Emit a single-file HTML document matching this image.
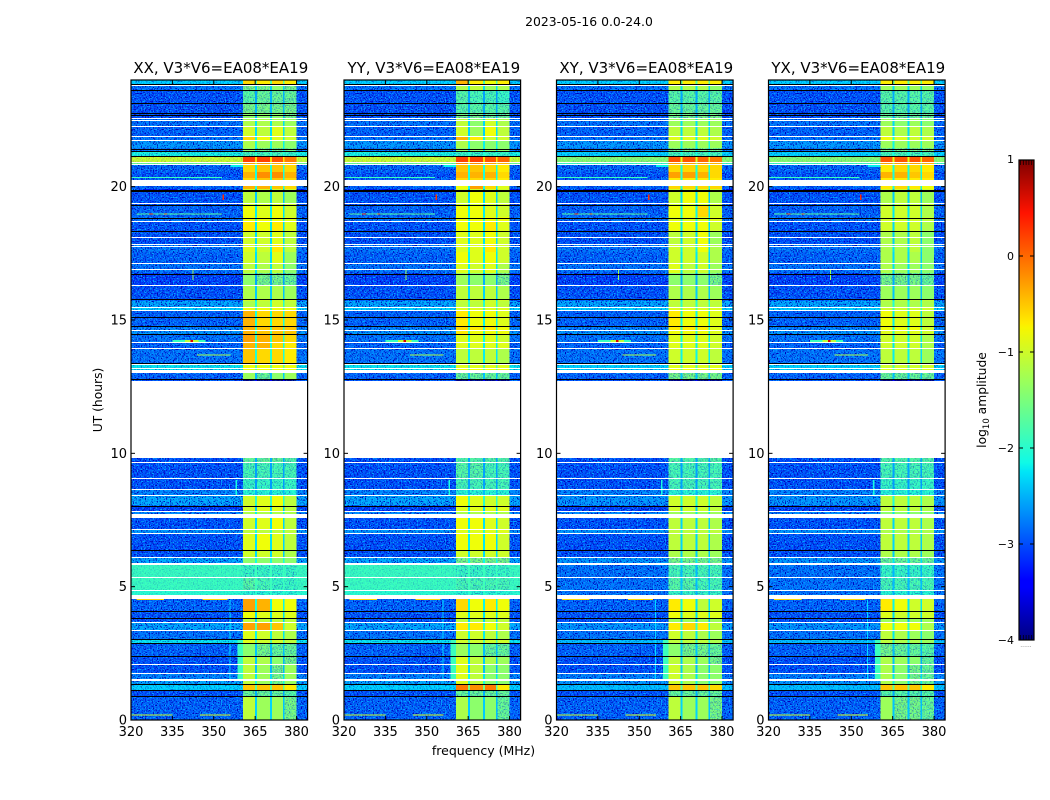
<!DOCTYPE html>
<html lang="en">
<head>
<meta charset="utf-8">
<title>2023-05-16 waterfall</title>
<style>
html,body{margin:0;padding:0;background:#fff;width:1050px;height:800px;overflow:hidden}
svg{display:block;font-family:"DejaVu Sans","Liberation Sans",sans-serif;fill:#000}
</style>
</head>
<body>
<svg id="fig" xmlns="http://www.w3.org/2000/svg" width="1050" height="800" viewBox="0 0 1050 800">
  <defs>
    <filter id="grain-dark" x="0" y="0" width="100%" height="100%" color-interpolation-filters="sRGB">
      <feTurbulence type="fractalNoise" baseFrequency="0.75" numOctaves="1" seed="3"/>
      <feColorMatrix type="matrix" values="0 0 0 0 0  0 0 0 0 0  0 0 0 0 0.72  7 0 0 0 -3.55"/>
    </filter>
    <filter id="grain-light" x="0" y="0" width="100%" height="100%" color-interpolation-filters="sRGB">
      <feTurbulence type="fractalNoise" baseFrequency="0.75" numOctaves="1" seed="11"/>
      <feColorMatrix type="matrix" values="0 0 0 0 0  0 0 0 0 0.66  0 0 0 0 1  7 0 0 0 -3.7"/>
    </filter>
    <pattern id="grain" patternUnits="userSpaceOnUse" width="220" height="220">
      <rect width="220" height="220" filter="url(#grain-dark)"/>
      <rect width="220" height="220" filter="url(#grain-light)"/>
    </pattern>
    <linearGradient id="jet-gradient" x1="0" y1="1" x2="0" y2="0"></linearGradient>
  </defs>
  <text x="589" y="26" font-size="12.4" text-anchor="middle">2023-05-16 0.0-24.0</text>
  <text x="483.5" y="755" font-size="12.5" text-anchor="middle">frequency (MHz)</text>
  <text transform="translate(102,400) rotate(-90)" font-size="12.3" text-anchor="middle">UT (hours)</text>
  <text transform="translate(986,400) rotate(-90)" font-size="12.3" text-anchor="middle">log<tspan font-size="8.5" dy="3">10</tspan><tspan dy="-3"> amplitude</tspan></text>
  <g id="panels"></g>
  <g id="colorbar"></g>
</svg>
<script>
// ---- chart data -------------------------------------------------------
const panelTitles = ["XX, V3*V6=EA08*EA19","YY, V3*V6=EA08*EA19","XY, V3*V6=EA08*EA19","YX, V3*V6=EA08*EA19"];
const freqTicks = [320,335,350,365,380];
const utTicks = [0,5,10,15,20];
const colorTicks = [1,0,-1,-2,-3,-4];
const colorMinorTicks = [0.98,0.95,0.92,0.89,0.85,-3.85,-3.89,-3.92,-3.95,-3.98];
// band edges in MHz: background, then four sub-bands separated by gaps
const bandEdges = [[360.5,365],[365.7,370.4],[371.1,375],[375.7,380]];
// UT at the top of each time row (bottom of the last row is 0)
const rowTops = [24,23.83,23.63,23.14,22.76,22.58,22.24,21.86,21.71,21.45,21.34,21.15,20.93,20.81,20.55,20.33,20.03,19.91,19.8,19.35,19.28,18.86,18.68,18.34,17.85,17.55,17.1,16.76,16.28,15.79,15.71,15.49,15.34,14.78,14.59,14.44,14.14,13.91,13.39,13.2,13.01,12.75,9.86,9.64,9.04,8.63,8.4,8.04,7.84,7.58,7.13,6.98,6.34,6.08,5.85,5.33,4.84,4.54,4.09,3.83,3.64,3.34,3.04,2.85,2.36,2.06,1.73,1.46,1.35,1.13,0.86];
// log10 amplitude outside the band per row
const backgroundParallel = [-2.3,-2.8,-3,-3,-3,-2.8,-2.9,-2.8,-2.6,-2.8,-2.1,-1,-1.6,-2.9,-3,-2.9,-2.9,-3.3,-3,-3,-2.9,-2.8,-3,-3,-2.8,-2.9,-2.8,-3.1,-3,-2.9,-2.5,-2.3,-2.9,-2.7,-2.6,-2.8,-2.9,-2.8,-2.2,-2.2,-2.9,-3,-3,-3,-3,-2.7,-2.5,-3.1,-2.7,-3,-2.6,-3,-3,-2.5,-1.9,-1.9,-2,-2.9,-3,-3,-2.5,-2.8,-2.2,-2.9,-3,-3,-2.7,-2.5,-2.3,-3,-2.9];
const backgroundCross = [-2.3,-2.8,-3,-3,-3,-2.8,-2.9,-2.8,-2.6,-2.8,-2.3,-1.4,-1.9,-2.9,-3,-2.9,-2.9,-3.3,-3,-3,-2.9,-2.8,-3,-3,-2.8,-2.9,-2.8,-3.1,-3,-2.9,-2.5,-2.3,-2.9,-2.7,-2.6,-2.8,-2.9,-2.8,-2.3,-2.3,-2.9,-3,-3,-3,-3,-2.7,-2.6,-3.1,-2.7,-3,-2.6,-3,-3,-2.6,-2.8,-2.8,-2.8,-2.9,-3,-3,-2.6,-2.8,-2.4,-2.9,-3,-3,-2.7,-2.6,-2.4,-3,-2.9];
// log10 amplitude of the four sub-bands per row, one matrix per polarisation
const bandsXX = [[-.6,-.7,-.6,-.7],[-1.5,-1.5,-1.4,-1.5],[-1.7,-1.6,-1.6,-1.6],[-1.5,-1.5,-1.5,-1.5],[-1.4,-1.4,-1.4,-1.5],[-1.2,-1.2,-1.2,-1.3],[-1,-1.1,-.9,-1.1],[-.6,-.8,-.9,-1],[-1.2,-1.3,-1.3,-1.4],[-1.4,-1.5,-1.5,-1.5],[-1.8,-1.8,-1.8,-1.9],[.2,.2,.1,-.1],[-.3,-.3,-.4,-.4],[-.6,-.5,-.5,-.6],[-.4,-.2,-.2,-.4],[-.6,-.5,-.5,-.6],[-.4,-.4,-.5,-.6],[-1,-1,-1,-1],[-1.1,-1.2,-1.1,-1.3],[-1,-1,-1,-1],[-.8,-.9,-.8,-1],[-.8,-.8,-.8,-.9],[-.7,-.8,-.7,-.9],[-1,-1,-.9,-1.1],[-.9,-1,-.7,-1.1],[-1,-1.1,-.9,-1.3],[-1.1,-1.2,-1.1,-1.4],[-1.4,-1.5,-1.5,-1.6],[-1.2,-1.2,-1.2,-1.3],[-1,-1,-1,-1],[-1.2,-1.1,-1,-1.1],[-.8,-.8,-.8,-.8],[-.4,-.6,-.6,-.6],[-.4,-.5,-.5,-.5],[-.4,-.5,-.5,-.5],[-.3,-.4,-.5,-.6],[-.4,-.4,-.6,-.7],[-.5,-.6,-.6,-.7],[-.8,-.8,-.8,-.8],[-.8,-.8,-.8,-.8],[-1.3,-1.6,-1.4,-1.3],[-4,-4,-4,-4],[-1.6,-1.6,-1.6,-1.7],[-1.8,-1.8,-1.8,-1.8],[-1.9,-1.9,-1.9,-1.9],[-2,-2,-2,-2],[-1,-.9,-.8,-1.1],[-1,-.9,-.9,-1.1],[-1.2,-1.2,-1.2,-1.2],[-1,-.9,-.8,-1.1],[-1.1,-1.1,-1.1,-1.1],[-.9,-.8,-.9,-1.1],[-1,-1,-1,-1.2],[-1.4,-1.4,-1.4,-1.4],[-1.9,-1.9,-1.9,-1.9],[-1.7,-1.8,-1.9,-1.9],[-2,-2,-2,-2],[-.3,-.4,-.8,-.8],[-.8,-.9,-.9,-.9],[-1.1,-1.1,-1.1,-1.1],[-.3,-.3,-.5,-1],[-.9,-1,-1.1,-1.2],[-.9,-1,-1,-1.1],[-1.4,-1.5,-1.6,-1.6],[-1.1,-1.2,-1.4,-1.5],[-1.1,-1.3,-1.5,-1.3],[-1.1,-1.3,-1.5,-1.3],[-1.1,-1.3,-1.5,-1.3],[-.5,-.5,-.5,-.7],[-1.6,-1.6,-1.6,-1.7],[-1.1,-1.3,-1.3,-1.5]];
const bandsYY = [[-.4,-.7,-.8,-.7],[-1.2,-1.1,-1.3,-1.2],[-1.7,-1.8,-1.8,-1.9],[-1.7,-1.7,-1.7,-1.7],[-1.5,-1.5,-1.6,-1.6],[-1.1,-1.4,-1,-1.2],[-1,-1.3,-.8,-1.1],[-.4,-.7,-1,-1],[-1.2,-1.4,-1.4,-1.4],[-1.4,-1.4,-1.4,-1.4],[-1.9,-1.9,-1.9,-1.9],[.2,.2,.1,0],[-.2,-.2,-.3,-.4],[-.5,-.5,-.6,-.7],[-.4,-.4,-.4,-.6],[-.6,-.6,-.6,-.7],[-.8,-.3,-.6,-.9],[-1,-1,-1,-1],[-1,-.8,-.9,-1.1],[-1,-1,-1,-1],[-.8,-.8,-.9,-1],[-.8,-.8,-.8,-.8],[-.8,-.8,-.7,-.9],[-.9,-.9,-.8,-1],[-.9,-.9,-.7,-1],[-.8,-.9,-.8,-1],[-.9,-1,-.9,-1.2],[-1.3,-1.4,-1.4,-1.5],[-1.1,-1.1,-1.1,-1.2],[-1,-1,-1,-1],[-1.1,-1.1,-1,-1.1],[-.9,-.9,-.9,-.9],[-.7,-.8,-.8,-.9],[-.6,-.7,-.7,-.8],[-.7,-.8,-.8,-.8],[-.9,-.9,-.9,-1],[-.9,-.9,-.9,-.9],[-1.1,-1.1,-1.1,-1.2],[-.9,-.9,-.9,-.9],[-.8,-.8,-.8,-.8],[-1.6,-1.6,-1.6,-1.6],[-4,-4,-4,-4],[-1.7,-1.7,-1.7,-1.7],[-1.7,-1.7,-1.8,-1.8],[-1.8,-1.8,-1.8,-1.8],[-2,-2,-2,-2],[-.8,-.9,-1,-1],[-.9,-.9,-.9,-.9],[-1.2,-1.2,-1.2,-1.2],[-.8,-.8,-.9,-1],[-.9,-.9,-.9,-.9],[-.8,-.8,-.8,-1],[-1,-1,-1,-1],[-1.5,-1.5,-1.5,-1.5],[-1.9,-1.9,-1.9,-1.9],[-1.8,-1.8,-1.8,-1.8],[-2,-2,-2,-2],[-.6,-.8,-.7,-.8],[-.9,-.9,-.9,-.9],[-1.1,-1.1,-1.1,-1.1],[-.7,-.7,-.8,-1],[-1,-1,-1.1,-1.2],[-1,-1,-1,-1],[-1.3,-1.4,-1.6,-1.6],[-.9,-1.1,-1.2,-1.3],[-.9,-1.1,-1.4,-1.4],[-.9,-1.1,-1.4,-1.4],[-.9,-1.1,-1.4,-1.4],[-.1,-.2,-.1,-.7],[-1.6,-1.6,-1.6,-1.6],[-1.2,-1.4,-1.4,-1.6]];
const bandsXY = [[-.7,-.7,-.7,-.7],[-1.2,-1.2,-1.2,-1.4],[-1.7,-1.7,-1.7,-1.7],[-1.6,-1.6,-1.6,-1.6],[-1.5,-1.5,-1.5,-1.5],[-1.3,-1.3,-1.3,-1.3],[-1.1,-1.1,-1.1,-1.2],[-.9,-.9,-.9,-1],[-1.3,-1.3,-1.3,-1.3],[-1.5,-1.5,-1.5,-1.5],[-1.8,-1.8,-1.8,-1.8],[.1,.1,0,-.1],[-.3,-.3,-.3,-.4],[-.6,-.6,-.6,-.6],[-.3,-.3,-.4,-.6],[-.7,-.7,-.7,-.7],[-.6,-.6,-.6,-.6],[-1,-1,-1,-1],[-1,-.8,-.8,-1.2],[-1,-1,-1,-1],[-.8,-.8,-.6,-1],[-.9,-.9,-.9,-.9],[-.8,-.8,-.8,-1],[-1.1,-1,-.8,-1.3],[-1,-1,-.8,-1.2],[-1,-1,-1,-1.2],[-.9,-1.1,-1,-1.3],[-1.4,-1.4,-1.4,-1.5],[-1.2,-1.2,-1.2,-1.3],[-1,-1,-1,-1],[-1.1,-1.1,-1.1,-1.1],[-.9,-.9,-.9,-.9],[-.7,-.8,-.8,-.9],[-.7,-.7,-.7,-.9],[-.8,-.8,-.8,-.9],[-.9,-.9,-.9,-1],[-.9,-.9,-.9,-1],[-1,-1,-1,-1.1],[-.9,-.9,-.9,-.9],[-.8,-.8,-.8,-.8],[-1.5,-1.5,-1.5,-1.5],[-4,-4,-4,-4],[-1.7,-1.7,-1.7,-1.7],[-1.8,-1.8,-1.8,-1.8],[-1.8,-1.8,-1.8,-1.8],[-2,-2,-2,-2],[-1,-1,-1,-1.1],[-1,-1,-1,-1.1],[-1.3,-1.3,-1.3,-1.3],[-1.1,-1.1,-1.1,-1.2],[-1.1,-1.1,-1.1,-1.1],[-1.1,-1.1,-1.1,-1.2],[-1.2,-1.2,-1.2,-1.3],[-1.5,-1.5,-1.5,-1.5],[-1.8,-1.8,-1.8,-1.8],[-1.7,-1.7,-1.8,-1.8],[-1.9,-1.9,-1.9,-1.9],[-.7,-.8,-1.1,-1],[-.8,-.9,-.9,-.9],[-1.3,-1.3,-1.3,-1.3],[-.7,-.6,-.7,-1.1],[-1,-1.1,-1.2,-1.3],[-1.1,-1.1,-1.1,-1.2],[-1.4,-1.5,-1.5,-1.6],[-1.1,-1.2,-1.3,-1.5],[-1,-1.2,-1.4,-1.4],[-1,-1.2,-1.4,-1.4],[-1,-1.2,-1.4,-1.4],[-.5,-.5,-.5,-.6],[-1.6,-1.6,-1.6,-1.6],[-1.1,-1.3,-1.3,-1.5]];
const bandsYX = [[-.7,-.7,-.7,-.7],[-1.3,-1.3,-1.3,-1.4],[-1.7,-1.7,-1.7,-1.7],[-1.7,-1.7,-1.7,-1.7],[-1.6,-1.6,-1.6,-1.6],[-1.3,-1.4,-1.3,-1.4],[-1.1,-1.2,-1.1,-1.2],[-.8,-.9,-1,-1],[-1.3,-1.3,-1.3,-1.3],[-1.5,-1.5,-1.5,-1.5],[-1.8,-1.8,-1.8,-1.8],[.1,.1,.1,0],[-.3,-.3,-.3,-.4],[-.7,-.6,-.6,-.7],[-.4,-.4,-.5,-.6],[-.7,-.7,-.7,-.7],[-.7,-.6,-.7,-.8],[-1,-1,-1,-1],[-1.2,-1.1,-1.1,-1.3],[-1.1,-1.1,-1.1,-1.1],[-1,-1,-1,-1.2],[-1,-1,-1,-1.1],[-1,-1,-1,-1.2],[-1.2,-1.2,-1.1,-1.4],[-1.2,-1.2,-1.1,-1.4],[-1.2,-1.2,-1.2,-1.4],[-1.2,-1.3,-1.3,-1.4],[-1.5,-1.5,-1.5,-1.6],[-1.3,-1.3,-1.3,-1.4],[-1.1,-1.1,-1.1,-1.1],[-1.2,-1.2,-1.2,-1.2],[-1,-1,-1,-1],[-.8,-.9,-.9,-1.1],[-.8,-.8,-.8,-1],[-.9,-.9,-.9,-1],[-1,-1,-1,-1.2],[-1,-1,-1,-1.2],[-1.1,-1.1,-1.1,-1.3],[-1,-1,-1,-1],[-.9,-.9,-.9,-.9],[-1.6,-1.6,-1.6,-1.6],[-4,-4,-4,-4],[-1.7,-1.7,-1.7,-1.7],[-1.8,-1.8,-1.8,-1.8],[-1.9,-1.9,-1.9,-1.9],[-2,-2,-2,-2],[-1.1,-1.1,-1.1,-1.2],[-1.1,-1.1,-1.1,-1.2],[-1.4,-1.4,-1.4,-1.4],[-1.1,-1.1,-1.1,-1.2],[-1.2,-1.2,-1.2,-1.2],[-1.1,-1.1,-1.1,-1.2],[-1.2,-1.2,-1.2,-1.3],[-1.6,-1.6,-1.6,-1.6],[-1.9,-1.9,-1.9,-1.9],[-1.8,-1.8,-1.8,-1.8],[-2,-2,-2,-2],[-.7,-.8,-1,-1],[-.9,-1,-1,-1],[-1.3,-1.3,-1.3,-1.3],[-.8,-.8,-.8,-1.2],[-1.1,-1.2,-1.3,-1.4],[-1.1,-1.2,-1.2,-1.3],[-1.5,-1.6,-1.6,-1.7],[-1.2,-1.3,-1.4,-1.6],[-1.2,-1.4,-1.5,-1.6],[-1.2,-1.4,-1.5,-1.6],[-1.2,-1.4,-1.5,-1.6],[-.5,-.5,-.5,-.7],[-1.7,-1.7,-1.7,-1.7],[-1.3,-1.5,-1.5,-1.6]];
const bandMatrices = [bandsXX,bandsYY,bandsXY,bandsYX];
const backgrounds = [backgroundParallel,backgroundParallel,backgroundCross,backgroundCross];
// narrow interference features: [utTop, utBottom, freqStart, freqEnd, level]
const featureSpans = [
 [20.36,20.32,320,353,-1.9],[19.7,19.5,353.2,353.7,.3],[20.81,20.74,356,360.5,-2.2],
 [18.99,18.95,322,353,-1.7],[18.99,18.95,326.5,328,.1],[18.99,18.95,332,333,-.3],
 [14.25,14.15,335,347,-1.9],[14.25,14.15,339.5,344.5,-1.1],[14.25,14.15,341.5,342.5,.6],
 [13.71,13.67,344,356,-1.2],[16.9,16.5,342.2,342.7,-1.3],
 [4.54,4.5,322,332,-.6],[4.54,4.5,346,355,-.6],
 [.21,.17,320,335,-1],[.21,.17,345,356,-.9],
 [3,1.5,358.6,360.5,-1.9],[4.5,1.5,355.7,356,-2.3],[9,8.4,357.8,358.4,-2.1]
];
// fully flagged (white) spans: [utTop, utBottom]
const blankSpans = [[23.83,23.79],[22.56,22.52],[22.5,22.46],[22.28,22.24],[21.89,21.85],[21.74,21.7],[20.93,20.89],[20.86,20.82],[20.25,20.03],[19.38,19.34],[18.73,18.69],[18.11,18.07],[17.85,17.81],[17.79,17.75],[17.13,17.09],[16.91,16.87],[16.3,16.26],[15.49,15.45],[15.38,15.34],[14.63,14.59],[14.18,14.14],[13.95,13.91],[13.34,13.3],[13.2,13.16],[13.14,13.02],[12.73,9.84],[9.68,9.64],[9.07,9.03],[8.66,8.62],[8.45,8.41],[7.84,7.8],[7.73,7.56],[7.16,7.12],[7.03,6.99],[6.12,6.08],[5.89,5.82],[5.35,5.31],[4.88,4.84],[4.69,4.52],[3.68,3.64],[3.37,3.33],[2.88,2.84],[2.11,2.07],[1.77,1.73],[1.53,1.46]];
// dark flagged lines, UT of each line
const darkLines = [23.85,23.61,23.13,22.76,22.69,21.43,21.34,21.15,19.89,19.82,19.31,18.84,18.34,16.74,15.77,15.11,14.78,14.46,13.39,12.77,8.04,6.36,4.08,3.81,3.05,2.89,2.39,1.36,1.14,.89];
const colorStops = [-4,-3.45,-3.375,-2.25,-2.15,-1.3,-0.75,-0.7,-0.45,0.45,1];

// ---- axes -------------------------------------------------------------
const SVG_NS = "http://www.w3.org/2000/svg";
const panelLefts = [131,344,556.5,768.5];
const panelWidth = 176.6;
const plotTop = 80, plotBottom = 720;
const freqMin = 320, freqMax = 384, utMax = 24;
const xScale = (f,left) => left + (f-freqMin)/(freqMax-freqMin)*panelWidth;
const yScale = ut => plotBottom - ut/utMax*(plotBottom-plotTop);
const cbTop = 160, cbBottom = 640, cbLeft = 1019, cbRight = 1034;
const cbScale = v => cbBottom - (v+4)/5*(cbBottom-cbTop);

function ramp(t,pts){
  for(let i=1;i<pts.length;i++){
    if(t<=pts[i][0]){const a=pts[i-1],b=pts[i];return a[1]+(b[1]-a[1])*(t-a[0])/(b[0]-a[0]);}
  }
  return pts[pts.length-1][1];
}
function jet(v){
  const t=Math.max(0,Math.min(1,(v+4)/5));
  const r=ramp(t,[[0,0],[.35,0],[.66,1],[.89,1],[1,.5]]);
  const g=ramp(t,[[0,0],[.125,0],[.375,1],[.64,1],[.91,0],[1,0]]);
  const b=ramp(t,[[0,.5],[.11,1],[.34,1],[.65,0],[1,0]]);
  return `rgb(${Math.round(r*255)},${Math.round(g*255)},${Math.round(b*255)})`;
}
function make(parent,tag,attrs,text){
  const el=document.createElementNS(SVG_NS,tag);
  for(const k in attrs) el.setAttribute(k,attrs[k]);
  if(text!==undefined) el.textContent=text;
  parent.appendChild(el);
  return el;
}
function cell(parent,left,f0,f1,ut0,ut1,level,opacityGrain){
  const x0=xScale(f0,left),x1=xScale(f1,left),y0=yScale(ut0),y1=yScale(ut1);
  const r=make(parent,"rect",{x:x0,y:y0,width:x1-x0,height:y1-y0,fill:jet(level),"shape-rendering":"crispEdges"});
  
  
  if(opacityGrain>0){
    const g=make(parent,"rect",{x:x0,y:y0,width:x1-x0,height:y1-y0,fill:"url(#grain)",opacity:opacityGrain,"shape-rendering":"crispEdges"});
    
    
  }
}

// ---- panels -----------------------------------------------------------
const panelsG=document.getElementById("panels");
panelTitles.forEach((title,p)=>{
  const left=panelLefts[p];
  const g=make(panelsG,"g",{});
  
  
  rowTops.forEach((top,i)=>{
    const bottom=i+1<rowTops.length?rowTops[i+1]:0;
    const bg=backgrounds[p][i], bands=bandMatrices[p][i];
    const bgGrain=bg<-2.4?1:bg<-2?.5:.2;
    cell(g,left,freqMin,bandEdges[0][0],top,bottom,bg,bgGrain);
    cell(g,left,bandEdges[3][1],freqMax,top,bottom,bg,bgGrain);
    bands.forEach((level,k)=>{
      cell(g,left,bandEdges[k][0],bandEdges[k][1],top,bottom,level,level<-1.4?.4:0);
      if(k<3){
        const gapLevel=bg+0.35*(Math.min(level,bands[k+1])-bg);
        cell(g,left,bandEdges[k][1],bandEdges[k+1][0],top,bottom,gapLevel,0);
      }
    });
  });
  featureSpans.forEach(s=>cell(g,left,s[2],s[3],s[0],s[1],s[4],0));
  blankSpans.forEach(s=>{
    const yA=Math.round(yScale(s[0])), yB=Math.round(yScale(s[1]));
    const thin=(s[0]-s[1])<=0.05;
    const b=make(g,"rect",{x:left,y:yA,width:panelWidth,height:thin?1:Math.max(1,yB-yA),fill:"#fff","shape-rendering":"crispEdges"});
    
    
  });
  darkLines.forEach(u=>{
    const l=make(g,"rect",{x:left,y:Math.round(yScale(u)),width:panelWidth,height:1,fill:"#000","shape-rendering":"crispEdges"});
    
    
  });
  const frame=make(g,"rect",{x:left,y:plotTop,width:panelWidth,height:plotBottom-plotTop,fill:"none",stroke:"#000","stroke-width":1.2});
  
  
  freqTicks.forEach(f=>{
    const x=xScale(f,left);
    const tb=make(g,"line",{x1:x,x2:x,y1:plotBottom,y2:plotBottom-4,stroke:"#000","stroke-width":1});
    
    
    const tt=make(g,"line",{x1:x,x2:x,y1:plotTop,y2:plotTop+4,stroke:"#000","stroke-width":1});
    
    
    const lb=make(g,"text",{x:x,y:736,"font-size":13,"text-anchor":"middle"},String(f));
    
    
  });
  utTicks.forEach(u=>{
    const y=yScale(u);
    const tl=make(g,"line",{x1:left,x2:left+4,y1:y,y2:y,stroke:"#000","stroke-width":1});
    
    
    const tr=make(g,"line",{x1:left+panelWidth,x2:left+panelWidth-4,y1:y,y2:y,stroke:"#000","stroke-width":1});
    
    
    const lb=make(g,"text",{x:left-4,y:y+4.5,"font-size":13,"text-anchor":"end"},String(u));
    
    
  });
  const t=make(g,"text",{x:left+panelWidth/2+1.5,y:73,"font-size":15,"text-anchor":"middle"},title);
  
  
});

// ---- colorbar ---------------------------------------------------------
const grad=document.getElementById("jet-gradient");
colorStops.forEach(v=>{
  const s=make(grad,"stop",{offset:((v+4)/5*100)+"%","stop-color":jet(v)});
});
const cb=document.getElementById("colorbar");
const cbRect=make(cb,"rect",{x:cbLeft,y:cbTop,width:cbRight-cbLeft,height:cbBottom-cbTop,fill:"url(#jet-gradient)",stroke:"#000","stroke-width":1.2});


colorTicks.forEach(v=>{
  const y=cbScale(v);
  const a=make(cb,"line",{x1:cbLeft,x2:cbLeft+4,y1:y,y2:y,stroke:"#000","stroke-width":1});
  
  
  const b=make(cb,"line",{x1:cbRight,x2:cbRight-4,y1:y,y2:y,stroke:"#000","stroke-width":1});
  
  
  const lb=make(cb,"text",{x:1014,y:y+(v===1?3:4),"font-size":11,"text-anchor":"end"},v<0?"\u2212"+Math.abs(v):String(v));
  
  
});
colorMinorTicks.forEach((v,i)=>{
  const x=cbLeft+1.5+(i%5)*2.8;
  const m=make(cb,"line",{x1:x,x2:x,y1:v>0?cbTop:cbBottom,y2:v>0?cbTop+5:cbBottom-5,stroke:"#000","stroke-width":.7});
  
  
});
const dots=make(cb,"text",{x:1026,y:647,"font-size":6,"text-anchor":"middle",fill:"#777"},"......");


</script>
</body>
</html>
